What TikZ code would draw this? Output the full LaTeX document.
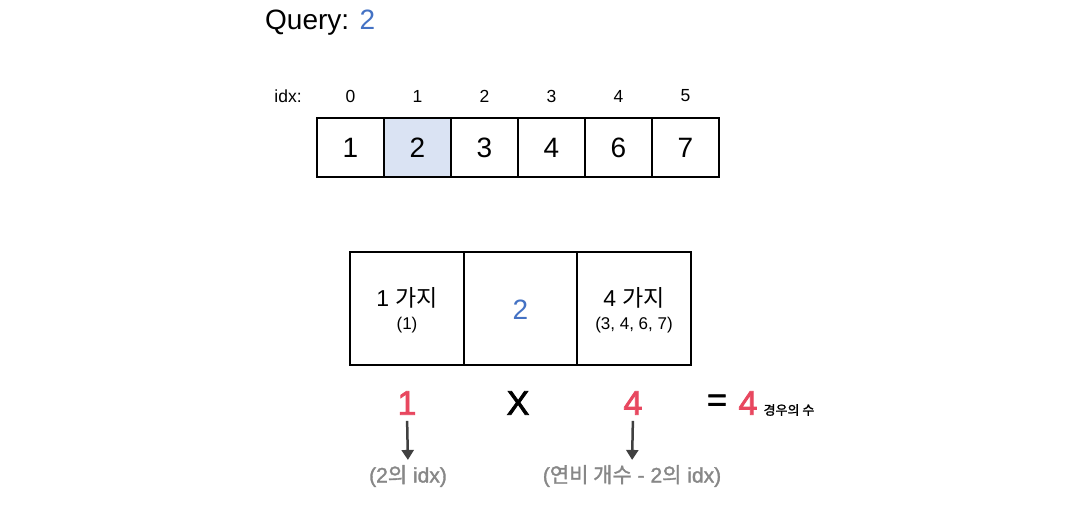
\documentclass[tikz,border=0pt]{standalone}
\usepackage{fontspec}
\setmainfont{Liberation Sans}
\newfontfamily\kr{Noto Sans CJK KR}
\newfontfamily\medfont[FakeBold=2.2]{Liberation Sans}
\newfontfamily\krmed[FakeBold=1.5]{Noto Sans CJK KR}
\newfontfamily\grayfont[FakeBold=1.5]{Liberation Sans}
\usetikzlibrary{arrows.meta}
\definecolor{qblue}{HTML}{4472C4}
\definecolor{qred}{HTML}{E8475F}
\definecolor{cellfill}{HTML}{DAE3F3}
\definecolor{arrgray}{HTML}{404040}
\definecolor{txtgray}{HTML}{878787}
\begin{document}
\begin{tikzpicture}[x=1pt,y=-1pt,
  every node/.style={inner sep=0pt},
  cell/.style={draw, line width=1.6pt, minimum width=67pt, minimum height=59pt, font=\fontsize{28}{28}\selectfont},
  bigbox/.style={draw, line width=1.8pt, minimum width=113.5pt, minimum height=113pt},
  idxlab/.style={font=\fontsize{17.5}{17.5}\selectfont},
  boxmain/.style={font=\fontsize{23}{23}\selectfont},
  boxsub/.style={font=\fontsize{17}{17}\selectfont},
  bignum/.style={font=\fontsize{34}{34}\selectfont\medfont},
  graytxt/.style={text=txtgray, font=\fontsize{21}{21}\selectfont\grayfont},
  arr/.style={draw=arrgray, line width=2.5pt, -{Triangle[length=10pt,width=12pt]}, shorten <=6pt, shorten >=5pt}]
\fill[white] (0,0) rectangle (1067,510);
\useasboundingbox (0,0) rectangle (1067,510);
% title
\node[anchor=west, font=\fontsize{28}{28}\selectfont] (query) at (265,23) {Query: \textcolor{qblue}{2}};
% index labels
\node[idxlab] (idx) at (288,96) {idx:};
\foreach \i [evaluate=\i as \xx using 350.5+67*\i] in {0,...,5} {
  \node[idxlab] (i\i) at (\xx,96) {\i};
}
\node[cell] (c0) at (350.5,147.5) {1};
\node[cell, fill=cellfill] (c1) at (417.5,147.5) {2};
\node[cell] (c2) at (484.5,147.5) {3};
\node[cell] (c3) at (551.5,147.5) {4};
\node[cell] (c4) at (618.5,147.5) {6};
\node[cell] (c5) at (685.5,147.5) {7};
% big boxes
\node[bigbox] (b1) at (407,308.5) {};
\node[bigbox] (b2) at (520.5,308.5) {};
\node[bigbox] (b3) at (634,308.5) {};
\node[boxmain] (t1) at (407,298) {1 {\kr 가지}};
\node[boxsub] (s1) at (407,325) {(1)};
\node[font=\fontsize{28}{28}\selectfont, text=qblue] (t2) at (520.5,310) {2};
\node[boxmain] (t3) at (634,298) {4 {\kr 가지}};
\node[boxsub] (s3) at (634,325) {(3, 4, 6, 7)};
% bottom row
\node[bignum, text=qred] (r1) at (407,403) {1};
\node[bignum] (mx) at (518,403) {X};
\node[bignum, text=qred] (r4) at (633,403) {4};
\node[bignum] (eq) at (717,403) {=};
\node[bignum, text=qred] (res) at (748,403) {4};
\node[font=\fontsize{13}{13}\selectfont\krmed] (cnt) at (789,410) {경우의 수};
\node[graytxt] (g1) at (408,476) {(2{\krmed 의} idx)};
\node[graytxt] (g2) at (632,476) {({\krmed 연비 개수} - 2{\krmed 의} idx)};
\draw[arr] (r1.south) -- (g1.north);
\draw[arr] (r4.south) -- (g2.north);
\end{tikzpicture}
\end{document}
